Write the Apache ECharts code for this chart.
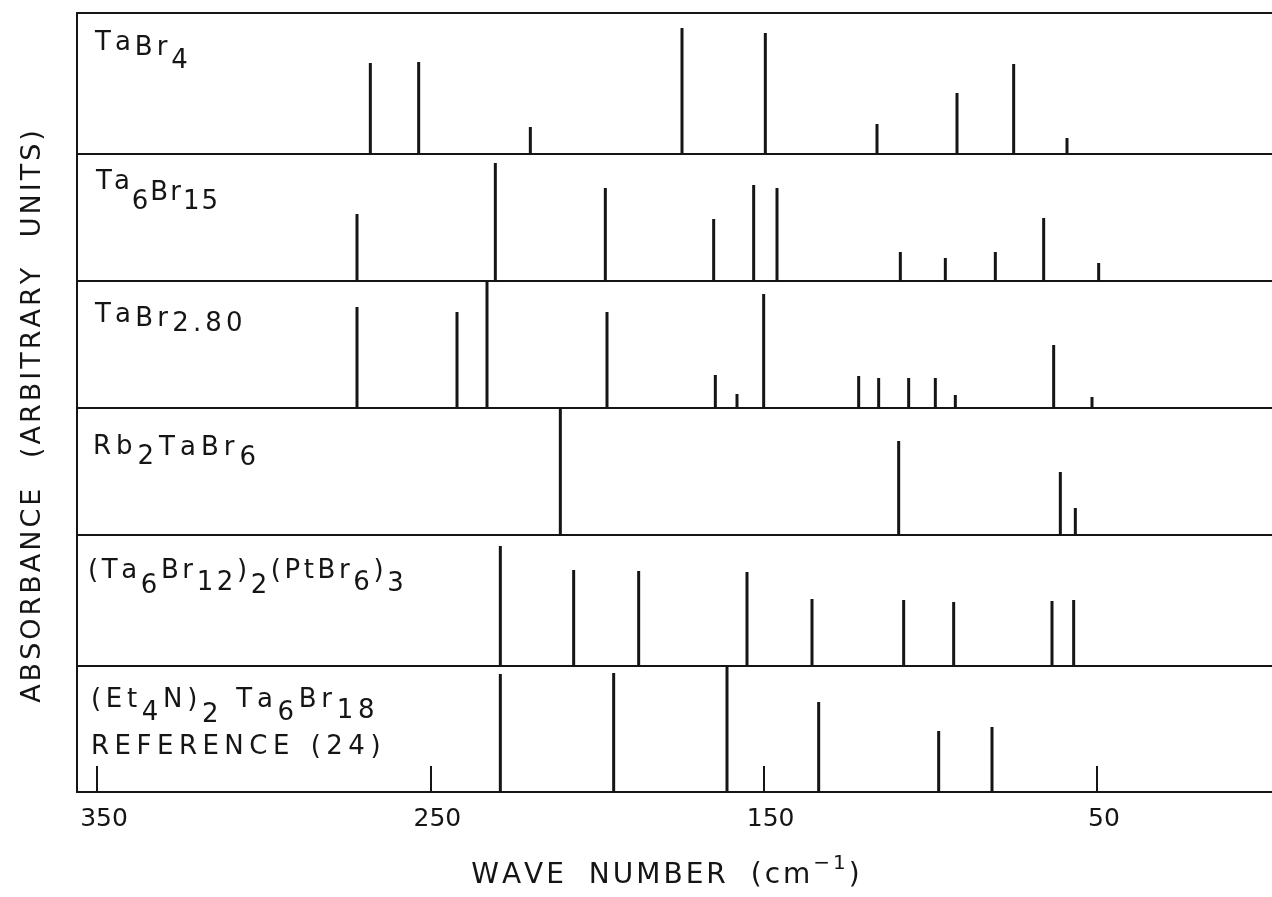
<!DOCTYPE html>
<html>
<head>
<meta charset="utf-8">
<script src="https://cdn.jsdelivr.net/npm/echarts@6/dist/echarts.min.js"></script>
<style>
  html, body { margin: 0; padding: 0; background: #fff; }
  #chart { width: 1272px; height: 897px; }
</style>
</head>
<body>
<div id="chart"></div>
<script>
// Far-infrared band positions (cm-1) and relative absorbance (arbitrary units)
const waveTaBr4 = [268, 253.5, 220, 174.5, 149.5, 116, 92, 75, 59];
const absTaBr4  = [91, 92, 27, 126, 121, 30, 61, 90, 16];

const waveTa6Br15 = [272, 230.5, 197.5, 165, 153, 146, 109, 95.5, 80.5, 66, 49.5];
const absTa6Br15  = [67, 118, 93, 62, 96, 93, 29, 23, 29, 63, 18];

const waveTaBr280 = [272, 242, 233, 197, 164.5, 158, 150, 121.5, 115.5, 106.5, 98.5, 92.5, 63, 51.5];
const absTaBr280  = [101, 96, 127, 96, 33, 14, 114, 32, 30, 30, 30, 13, 63, 11];

const waveRb2TaBr6 = [211, 109.5, 61, 56.5];
const absRb2TaBr6  = [127, 94, 63, 27];

const waveTa6Br12PtBr6 = [229, 207, 187.5, 155, 135.5, 108, 93, 63.5, 57];
const absTa6Br12PtBr6  = [120, 96, 95, 94, 67, 66, 64, 65, 66];

const waveEt4NTa6Br18 = [229, 195, 161, 133.5, 97.5, 81.5];
const absEt4NTa6Br18  = [118, 119, 126, 90, 61, 65];

// Tick labels of the wave-number axis
const waveTicks = [350, 250, 150, 50];

// Compound labels: [text, drop below the line top] for the subscript lettering
const labelTaBr4 = [['Ta', 0], ['Br', 5], ['4', 18]];
const labelTa6Br15 = [['Ta', 0], ['6', 20], ['Br', 11], ['15', 20]];
const labelTaBr280 = [['Ta', 0], ['Br', 4], ['2.80', 9]];
const labelRb2TaBr6 = [['Rb', 0], ['2', 10], ['TaBr', 1], ['6', 11]];
const labelTa6Br12PtBr6 = [['(Ta', 0], ['6', 15], ['Br', 0], ['12', 12], [')', 0], ['2', 15],
                           ['(PtBr', 0], ['6', 12], [')', 0], ['3', 13]];
const labelEt4NTa6Br18 = [['(Et', 0], ['4', 13], ['N)', 0], ['2', 15], [' ', 0], ['Ta', 0],
                          ['6', 13], ['Br', 0], ['18', 11]];
const labelReference = [['REFERENCE (24)', 0]];

const yTitle = [['ABSORBANCE (ARBITRARY UNITS)', 0]];
const xTitle = [['WAVE NUMBER (cm', 8], ['\u22121', 0], [')', 8]];

const panels = [
  { wave: waveTaBr4, abs: absTaBr4 },
  { wave: waveTa6Br15, abs: absTa6Br15 },
  { wave: waveTaBr280, abs: absTaBr280 },
  { wave: waveRb2TaBr6, abs: absRb2TaBr6 },
  { wave: waveTa6Br12PtBr6, abs: absTa6Br12PtBr6 },
  { wave: waveEt4NTa6Br18, abs: absEt4NTa6Br18 }
];

// Panel edges (px) of the stacked frame
const edges = [13, 154, 281, 408, 535, 666, 792];
const INK = '#151515';
const FONT = '"DejaVu Sans", "Liberation Sans", sans-serif';
const frameLine = { color: INK, width: 2 };

// Builds letter-spaced rich text; each segment may sit lower than the line top
function lettering(segments, size, spacing, spaceExtra, sizes) {
  const rich = {};
  let str = '';
  segments.forEach(([t, drop], idx) => {
    const fs = (sizes && sizes[idx]) || size;
    const key = 'd' + drop + 's' + fs;
    const keySp = key + 'w';
    if (!rich[key]) {
      rich[key] = { fontSize: fs, fontFamily: FONT, fill: INK, lineHeight: size,
                    verticalAlign: 'top', padding: [drop, spacing, 0, 0] };
      rich[keySp] = { fontSize: fs, fontFamily: FONT, fill: INK, lineHeight: size,
                      verticalAlign: 'top', padding: [drop, spacing + spaceExtra, 0, 0] };
    }
    for (const ch of t) {
      str += '{' + (ch === ' ' ? keySp : key) + '|' + ch + '}';
    }
  });
  return { text: str, rich: rich };
}

function labelEl(segments, left, top, size, spacing, spaceExtra) {
  const s = lettering(segments, size, spacing, spaceExtra || 0);
  return { type: 'text', left: left, top: top, silent: true,
           style: { text: s.text, rich: s.rich, fill: INK, fontSize: size, fontFamily: FONT } };
}

const grids = [], xAxes = [], yAxes = [], series = [];
panels.forEach((p, i) => {
  const last = i === panels.length - 1;
  grids.push({ left: 77, right: 0, top: edges[i], height: edges[i + 1] - edges[i] });
  // bottom edge of each panel doubles as the separator / wave-number axis
  xAxes.push({
    type: 'value', gridIndex: i, inverse: true, min: -2.5, max: 356, position: 'bottom',
    axisLine: { show: true, onZero: false, lineStyle: frameLine },
    splitLine: { show: false },
    axisTick: { show: last, inside: true, length: 26, customValues: waveTicks,
                lineStyle: { color: INK, width: 2 } },
    axisLabel: { show: last, customValues: waveTicks, margin: 15,
                 color: INK, fontSize: 25, fontFamily: FONT, padding: [0, 0, 0, 14] }
  });
  yAxes.push({
    type: 'value', gridIndex: i, min: 0, max: edges[i + 1] - edges[i], position: 'left',
    axisLine: { show: true, onZero: false, lineStyle: frameLine },
    axisTick: { show: false }, axisLabel: { show: false }, splitLine: { show: false }
  });
  series.push({
    type: 'bar', xAxisIndex: i, yAxisIndex: i, barWidth: 3, silent: true,
    itemStyle: { color: INK },
    data: p.wave.map((w, j) => [w, p.abs[j]])
  });
});
// top edge of the frame
xAxes.push({
  type: 'value', gridIndex: 0, inverse: true, min: -2.5, max: 356, position: 'top',
  axisLine: { show: true, onZero: false, lineStyle: frameLine },
  axisTick: { show: false }, axisLabel: { show: false }, splitLine: { show: false }
});

const yT = lettering(yTitle, 27, 3, 16);
const xT = lettering(xTitle, 28, 3, 10, [28, 20, 28]);

const chart = echarts.init(document.getElementById('chart'), null, { renderer: 'canvas' });
chart.setOption({
  animation: false,
  backgroundColor: '#fff',
  grid: grids,
  xAxis: xAxes,
  yAxis: yAxes,
  series: series,
  graphic: [
    labelEl(labelTaBr4, 95, 30, 26, 4),
    labelEl(labelTa6Br15, 96, 169, 26, 2),
    labelEl(labelTaBr280, 95, 302, 26, 4.2),
    labelEl(labelRb2TaBr6, 93, 434, 26, 5),
    labelEl(labelTa6Br12PtBr6, 88, 558, 26, 3.6),
    labelEl(labelEt4NTa6Br18, 91, 687, 26, 4.7),
    labelEl(labelReference, 91, 734, 26, 5.5, 2),
    { type: 'text', x: 33, y: 415, rotation: Math.PI / 2, silent: true,
      style: { text: yT.text, rich: yT.rich, align: 'center', verticalAlign: 'middle',
               fill: INK, fontSize: 27, fontFamily: FONT } },
    { type: 'text', x: 667, y: 868, silent: true,
      style: { text: xT.text, rich: xT.rich, align: 'center', verticalAlign: 'middle',
               fill: INK, fontSize: 28, fontFamily: FONT } }
  ]
});
</script>
</body>
</html>
